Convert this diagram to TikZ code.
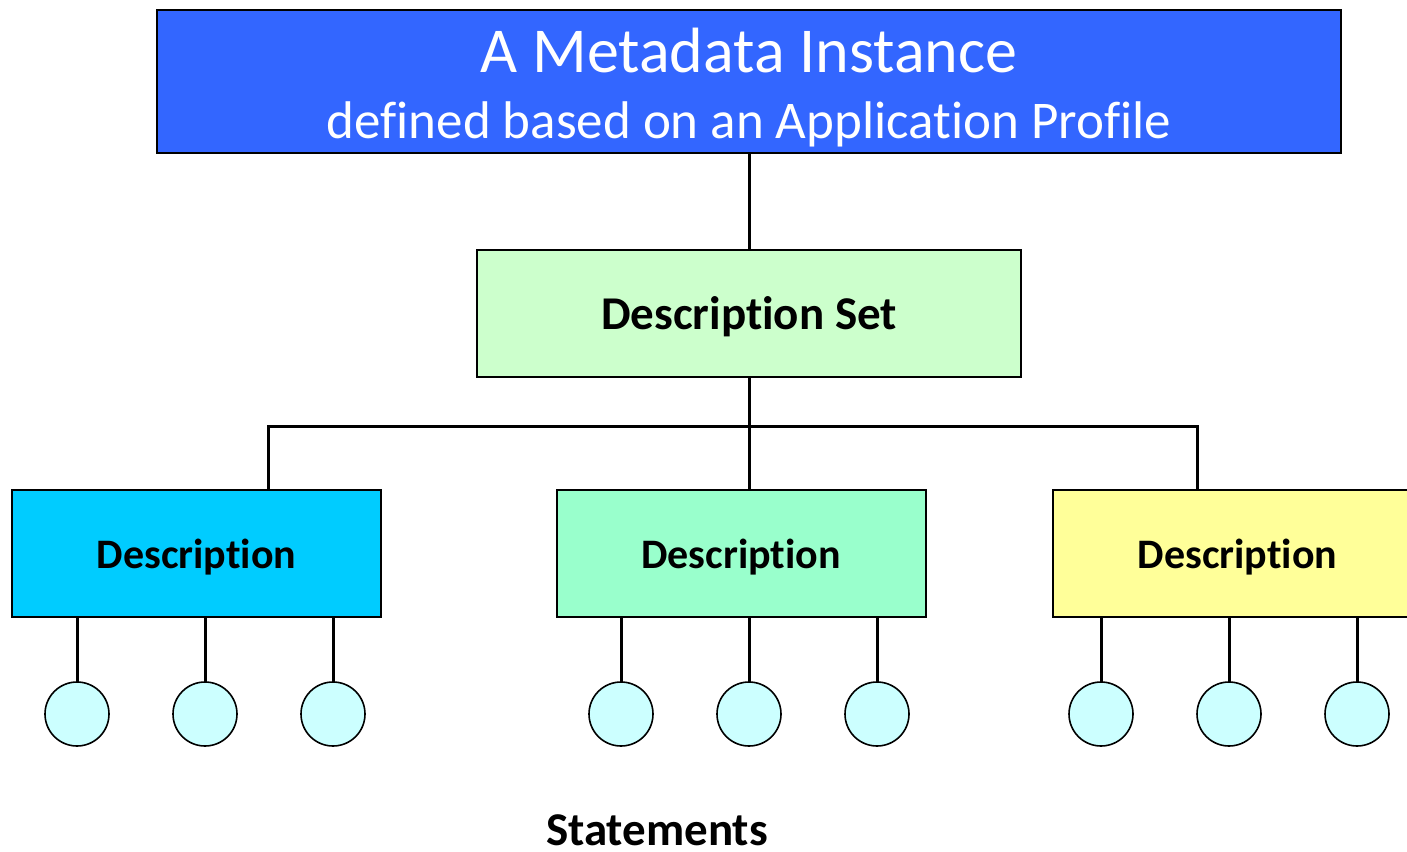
\documentclass[tikz,border=0pt]{standalone}
\usepackage{fontspec}
\setmainfont{Carlito}[Ligatures=NoCommon]
\definecolor{topblue}{HTML}{3366FF}
\definecolor{setgreen}{HTML}{CCFFCC}
\definecolor{descblue}{HTML}{00CCFF}
\definecolor{descgreen}{HTML}{99FFCC}
\definecolor{descyellow}{HTML}{FFFF99}
\definecolor{stmtfill}{HTML}{CCFFFF}
\begin{document}
\begin{tikzpicture}[x=1pt,y=-1pt,
  box/.style={draw=black,line width=2pt,inner sep=0pt,outer sep=0pt},
  descbox/.style={box,minimum width=369pt,minimum height=127pt},
  lbl/.style={anchor=base,inner sep=0pt},
  desclbl/.style={lbl,font=\fontsize{42}{44}\selectfont\bfseries},
  stmt/.style={circle,draw=black,line width=1.6pt,fill=stmtfill,
    minimum size=64pt,inner sep=0pt,outer sep=0pt},
  link/.style={draw=black,line width=3pt}]
\useasboundingbox (0,0) rectangle (1407,851);
\begin{scope}
\clip (0,0) rectangle (1407,851);

% top level box
\node[box,fill=topblue,minimum width=1184pt,minimum height=143pt] (mi) at (749,81.5) {};
\node[lbl,text=white,font=\fontsize{64}{66}\selectfont] (mi1) at (749,72)
  {A Metadata Instance};
\node[lbl,text=white,font=\fontsize{53}{56}\selectfont] (mi2) at (749,138)
  {defined based on an Application Profile};

% description set
\node[box,fill=setgreen,minimum width=544pt,minimum height=127pt] (ds) at (749,313.5) {};
\node[lbl,font=\fontsize{47}{49}\selectfont\bfseries] (dsl) at (749,329) {Description Set};

% descriptions
\node[descbox,fill=descblue]   (d1) at (196.5,553.5) {};
\node[descbox,fill=descgreen]  (d2) at (741,553.5)   {};
\node[descbox,fill=descyellow] (d3) at (1237.5,553.5) {};
\node[desclbl] (d1l) at (196.5,568) {Description};
\node[desclbl] (d2l) at (741,568)   {Description};
\node[desclbl] (d3l) at (1237.5,568) {Description};

% statements
\foreach \n/\x in {a/77,b/205,c/333,d/621,e/749,f/877,g/1101,h/1229,i/1357}
  \node[stmt] (s\n) at (\x,714) {};

% tree connectors
\coordinate (j1) at (268,426);
\coordinate (j3) at (1197,426);
\draw[link] (mi.south) -- (mi.south |- ds.north);
\draw[link] (ds.south) -- (ds.south |- d2.north);
\draw[link] (j1 |- d1.north) -- (j1) -- (j3) -- (j3 |- d3.north);

\foreach \d/\s in {d1/a,d1/b,d1/c,d2/d,d2/e,d2/f,d3/g,d3/h,d3/i}
  \draw[link] (s\s.north |- \d.south) -- (s\s.north);

\node[lbl,font=\fontsize{47}{50}\selectfont\bfseries] (st) at (657,845) {Statements};
\end{scope}
\end{tikzpicture}
\end{document}
